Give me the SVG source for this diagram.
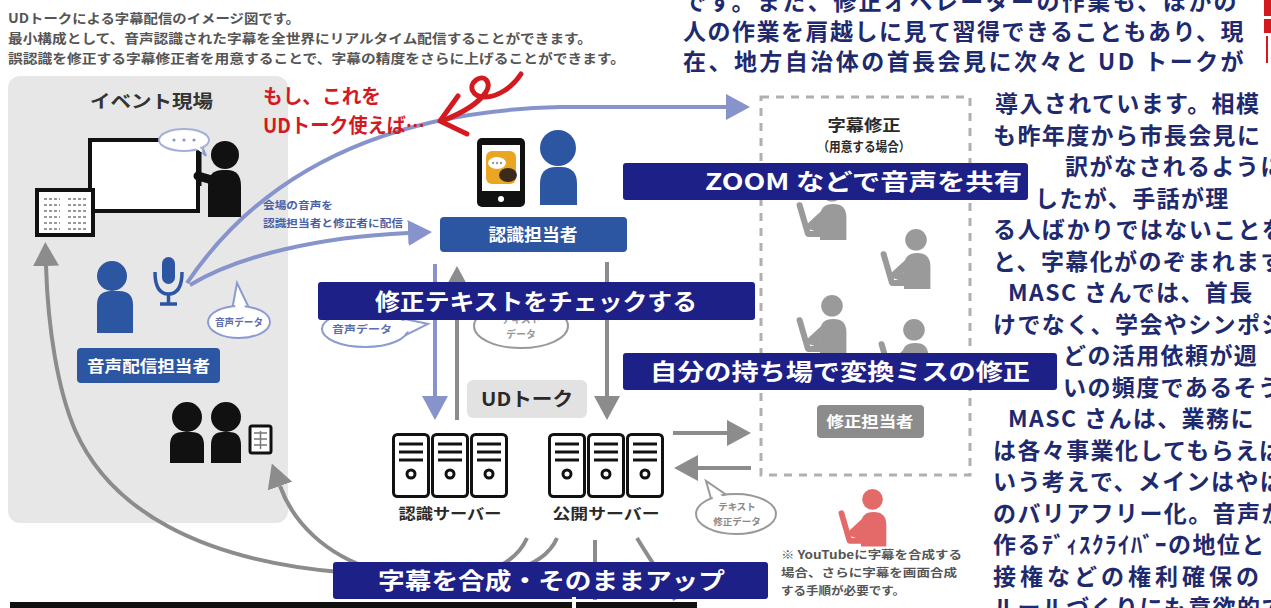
<svg xmlns="http://www.w3.org/2000/svg" xmlns:xlink="http://www.w3.org/1999/xlink" width="1271" height="608" viewBox="0 0 1271 608">
  <style>
    .jp { font-family: "Noto Sans CJK JP", "Noto Sans", sans-serif; font-weight: 700; }
    .desc { fill: #555; font-size: 13px; }
    .body { fill: #1f2a6e; font-size: 23px; letter-spacing: 1.4px; }
    .banner rect { fill: #1d2086; }
    .banner text { fill: #fff; font-size: 23px; }
    .bluebox { fill: #2c56a2; }
    .white { fill: #fff; }
    .lbl { fill: #2a2a2a; }
    .bl-line { fill: none; stroke: #8794cb; stroke-width: 4; }
    .gr-line { fill: none; stroke: #8c8c8c; stroke-width: 4; }
    .bub-b { fill: #fff; stroke: #8c9bd0; stroke-width: 2; }
    .bub-g { fill: #fff; stroke: #999; stroke-width: 2; }
    .worker-gray { color: #9a9a9a; }
    .worker-red { color: #e46a6a; }
  </style>
  <defs>
    <marker id="ah-blue" viewBox="0 0 24 26" markerWidth="24" markerHeight="26" refX="0" refY="13" orient="auto" markerUnits="userSpaceOnUse">
      <path d="M0,0 L24,13 L0,26 Z" fill="#8794cb"/>
    </marker>
    <marker id="ah-gray" viewBox="0 0 24 26" markerWidth="24" markerHeight="26" refX="0" refY="13" orient="auto" markerUnits="userSpaceOnUse">
      <path d="M0,0 L24,13 L0,26 Z" fill="#8c8c8c"/>
    </marker>
    <!-- seated person at a laptop, facing left -->
    <g id="worker">
      <circle cx="30" cy="9" r="9" fill="currentColor"/>
      <path d="M20,50 L20,31 Q20,20 31,20 Q42,20 42,31 L42,50 Z" fill="currentColor"/>
      <path d="M25,27 L13,38 L27,43" fill="none" stroke="currentColor" stroke-width="7" stroke-linecap="round" stroke-linejoin="round"/>
      <path d="M3,21 L10,45 L28,45" fill="none" stroke="currentColor" stroke-width="5" stroke-linecap="round" stroke-linejoin="round"/>
    </g>
    <!-- single server rack unit -->
    <g id="rack">
      <rect x="1.5" y="1.5" width="35" height="62" rx="4" fill="#fff" stroke="#111" stroke-width="3"/>
      <path d="M7,11 H31 M7,19 H31 M7,27 H31" stroke="#111" stroke-width="3"/>
      <circle cx="19" cy="41" r="4" fill="none" stroke="#111" stroke-width="3"/>
    </g>
  </defs>

  <rect width="1271" height="608" fill="#fff"/>

  <!-- caption -->
  <g id="caption" class="jp desc">
    <text x="8" y="23" textLength="292" lengthAdjust="spacingAndGlyphs">UDトークによる字幕配信のイメージ図です。</text>
    <text x="8" y="43" textLength="584" lengthAdjust="spacingAndGlyphs">最小構成として、音声認識された字幕を全世界にリアルタイム配信することができます。</text>
    <text x="8" y="63" textLength="617" lengthAdjust="spacingAndGlyphs">誤認識を修正する字幕修正者を用意することで、字幕の精度をさらに上げることができます。</text>
  </g>

  <!-- venue panel -->
  <g id="venue">
    <rect x="8" y="76" width="280" height="447" rx="12" fill="#e7e7e7"/>
    <text class="jp" x="90" y="108" font-size="18" fill="#333" textLength="123" lengthAdjust="spacingAndGlyphs">イベント現場</text>
  </g>

  <!-- presenter at whiteboard -->
  <g id="presenter">
    <rect x="90" y="140" width="108" height="71" fill="#fff" stroke="#111" stroke-width="4"/>
    <path d="M196,146 L206,156 L201,144 Z" class="bub-b"/>
    <ellipse cx="184" cy="140" rx="25" ry="11" fill="#fff" stroke="#a6b0d6" stroke-width="2"/>
    <path d="M195,148 L203,153 L199,146 Z" fill="#fff"/>
    <circle cx="174" cy="140" r="1.6" fill="#8a98c8"/>
    <circle cx="184" cy="140" r="1.6" fill="#8a98c8"/>
    <circle cx="194" cy="140" r="1.6" fill="#8a98c8"/>
    <path d="M200,152 V186" stroke="#111" stroke-width="3"/>
    <circle cx="225" cy="155" r="14" fill="#111"/>
    <path d="M208,217 V186 Q208,170 223,170 H227 Q241,170 241,186 V217 Z" fill="#111"/>
    <path d="M212,180 L198,176" stroke="#111" stroke-width="9" stroke-linecap="round"/>
  </g>

  <!-- displayed subtitle screen -->
  <g id="screen">
    <rect x="37" y="190" width="56" height="45" fill="#fff" stroke="#111" stroke-width="4"/>
    <path d="M44,199 H60 M44,205 H60 M44,211 H60 M44,217 H60 M44,223 H60 M44,229 H60 M68,199 H86 M68,205 H86 M68,211 H86 M68,217 H86 M68,223 H86 M68,229 H86" stroke="#9a9a9a" stroke-width="2" stroke-dasharray="3 2"/>
  </g>

  <!-- audio operator -->
  <g id="audio-operator">
    <circle cx="112" cy="276" r="15" fill="#2c56a2"/>
    <path d="M97,333 V305 Q97,291 111,291 H119 Q133,291 133,305 V333 Z" fill="#2c56a2"/>
    <rect x="162" y="257" width="13" height="27" rx="6.5" fill="#2c56a2"/>
    <path d="M155,272 Q155,294 168.5,294 Q182,294 182,272" fill="none" stroke="#2c56a2" stroke-width="3.5"/>
    <path d="M168.5,294 V303 M160,304 H177" stroke="#2c56a2" stroke-width="3.5"/>
    <rect x="77" y="348" width="143" height="35" rx="4" class="bluebox"/>
    <text class="jp white" x="148.5" y="372" font-size="16" text-anchor="middle" textLength="123" lengthAdjust="spacingAndGlyphs">音声配信担当者</text>
  </g>

  <!-- audience -->
  <g id="audience">
    <circle cx="187" cy="417" r="15" fill="#111"/>
    <path d="M170,463 V445 Q170,432 183,432 H191 Q204,432 204,445 V463 Z" fill="#111"/>
    <circle cx="226" cy="417" r="15" fill="#111"/>
    <path d="M211,463 V445 Q211,432 223,432 H229 Q241,432 241,445 V463 Z" fill="#111"/>
    <rect x="250" y="426" width="21" height="27" rx="2" fill="#fff" stroke="#111" stroke-width="3"/>
    <path d="M254,433 H267 M254,439 H267 M254,445 H267 M260.5,431 V449" stroke="#777" stroke-width="1.5"/>
  </g>

  <!-- connectors -->
  <g id="connectors">
    <path class="bl-line" d="M187,283 C 250,190 360,112 560,107 L 726,107" marker-end="url(#ah-blue)"/>
    <path class="bl-line" d="M190,285 C 240,255 320,237 408,233" marker-end="url(#ah-blue)"/>
    <path class="bl-line" d="M435,264 V396" marker-end="url(#ah-blue)"/>
    <path class="gr-line" d="M457,420 V290" marker-end="url(#ah-gray)"/>
    <path class="gr-line" d="M607,262 V396" marker-end="url(#ah-gray)"/>
    <path class="gr-line" d="M673,433 H727" marker-end="url(#ah-gray)"/>
    <path class="gr-line" d="M751,468 H698" marker-end="url(#ah-gray)"/>
    <path class="gr-line" d="M527,538 C 510,578 440,590 375,570 C 325,555 293,522 280,486" marker-end="url(#ah-gray)"/>
    <path class="gr-line" d="M557,538 C 540,578 470,585 340,572 C 200,560 110,510 75,430 C 58,390 48,330 46,266" marker-end="url(#ah-gray)"/>
    <path class="gr-line" d="M595,540 V600"/>
    <path class="gr-line" d="M637,538 C 650,560 665,580 675,600"/>
  </g>

  <!-- connector notes -->
  <g id="notes" class="jp">
    <text x="263" y="209" font-size="10" fill="#4a5fa5" textLength="70" lengthAdjust="spacingAndGlyphs">会場の音声を</text>
    <text x="263" y="227" font-size="10" fill="#4a5fa5" textLength="140" lengthAdjust="spacingAndGlyphs">認識担当者と修正者に配信</text>
    <!-- voice data bubble near operator -->
    <path d="M232,310 L237,283 L250,310 Z" class="bub-b"/>
    <ellipse cx="239" cy="322" rx="31" ry="16" class="bub-b"/>
    <path d="M234.5,312 L237.5,289 L247,312 Z" fill="#fff"/>
    <text x="239" y="326" font-size="10" fill="#5c6eb0" text-anchor="middle" textLength="48" lengthAdjust="spacingAndGlyphs">音声データ</text>
    <!-- voice data bubble near recognition column -->
    <path d="M400,318 L428,324 L402,337 Z" class="bub-b"/>
    <ellipse cx="365" cy="329" rx="43" ry="18" class="bub-b"/>
    <path d="M398,320 L423,324 L400,335 Z" fill="#fff"/>
    <text x="362" y="333" font-size="10" fill="#5c6eb0" text-anchor="middle" textLength="60" lengthAdjust="spacingAndGlyphs">音声データ</text>
    <!-- text data bubble -->
    <ellipse cx="521" cy="326" rx="47" ry="22" class="bub-g"/>
    <text x="521" y="323" font-size="10" fill="#999" text-anchor="middle">テキスト</text>
    <text x="521" y="338" font-size="10" fill="#999" text-anchor="middle">データ</text>
    <!-- corrected text bubble -->
    <path d="M712,502 L706,481 L728,496 Z" class="bub-g"/>
    <ellipse cx="736" cy="514" rx="40" ry="20" class="bub-g"/>
    <path d="M714,502 L709,486 L726,499 Z" fill="#fff"/>
    <text x="737" y="510" font-size="9.5" fill="#8a8a8a" text-anchor="middle">テキスト</text>
    <text x="737" y="525" font-size="9.5" fill="#8a8a8a" text-anchor="middle">修正データ</text>
  </g>

  <!-- recognition operator -->
  <g id="recognizer">
    <rect x="477" y="138" width="48" height="69" rx="5" fill="#111"/>
    <rect x="482" y="145" width="38" height="46" fill="#fff"/>
    <rect x="486" y="151" width="30" height="33" rx="6" fill="#e8a623"/>
    <ellipse cx="508" cy="175" rx="9" ry="7" fill="#3b2b1b"/>
    <ellipse cx="497" cy="163" rx="9" ry="6" fill="#fff"/>
    <circle cx="493" cy="163" r="1.2" fill="#999"/>
    <circle cx="497" cy="163" r="1.2" fill="#999"/>
    <circle cx="501" cy="163" r="1.2" fill="#999"/>
    <circle cx="501" cy="199" r="3" fill="#fff"/>
    <circle cx="558" cy="148" r="18" fill="#2c56a2"/>
    <path d="M540,205 V184 Q540,167 556,167 H561 Q577,167 577,184 V205 Z" fill="#2c56a2"/>
    <rect x="440" y="217" width="187" height="35" rx="4" class="bluebox"/>
    <text class="jp white" x="533" y="241" font-size="17" text-anchor="middle" textLength="89" lengthAdjust="spacingAndGlyphs">認識担当者</text>
  </g>

  <!-- UD Talk label -->
  <g id="udtalk">
    <rect x="467" y="380" width="120" height="38" rx="6" fill="#e2e2e2"/>
    <text class="jp lbl" x="527" y="406" font-size="19" text-anchor="middle" textLength="92" lengthAdjust="spacingAndGlyphs">UDトーク</text>
  </g>

  <!-- recognition server -->
  <g id="recognition-server">
    <use href="#rack" x="392" y="433"/>
    <use href="#rack" x="431" y="433"/>
    <use href="#rack" x="470" y="433"/>
    <text class="jp lbl" x="450" y="519" font-size="15" text-anchor="middle" textLength="103" lengthAdjust="spacingAndGlyphs">認識サーバー</text>
  </g>

  <!-- publishing server -->
  <g id="publish-server">
    <use href="#rack" x="548" y="433"/>
    <use href="#rack" x="587" y="433"/>
    <use href="#rack" x="626" y="433"/>
    <text class="jp lbl" x="606" y="519" font-size="15" text-anchor="middle" textLength="107" lengthAdjust="spacingAndGlyphs">公開サーバー</text>
  </g>

  <!-- subtitle correction area -->
  <g id="correction">
    <rect x="761" y="97" width="209" height="378" fill="none" stroke="#b0b0b0" stroke-width="3" stroke-dasharray="8 7"/>
    <text class="jp lbl" x="864" y="131" font-size="16" text-anchor="middle" textLength="73" lengthAdjust="spacingAndGlyphs">字幕修正</text>
    <text class="jp lbl" x="864" y="151" font-size="13" text-anchor="middle" textLength="93" lengthAdjust="spacingAndGlyphs">（用意する場合）</text>
    <use href="#worker" class="worker-gray" transform="translate(796,180) scale(1.2)"/>
    <use href="#worker" class="worker-gray" transform="translate(880,229) scale(1.2)"/>
    <use href="#worker" class="worker-gray" transform="translate(796,295) scale(1.2)"/>
    <use href="#worker" class="worker-gray" transform="translate(878,319) scale(1.2)"/>
    <rect x="817" y="405" width="107" height="33" rx="4" fill="#8c8c8c"/>
    <text class="jp white" x="870" y="427" font-size="15" text-anchor="middle" textLength="87" lengthAdjust="spacingAndGlyphs">修正担当者</text>
  </g>

  <!-- video composite operator -->
  <g id="composer">
    <use href="#worker" class="worker-red" transform="translate(838,489) scale(1.15)"/>
    <g class="jp" font-size="11" fill="#555">
      <text x="781" y="559" textLength="181" lengthAdjust="spacingAndGlyphs">※ YouTubeに字幕を合成する</text>
      <text x="781" y="577" textLength="176" lengthAdjust="spacingAndGlyphs">場合、さらに字幕を画面合成</text>
      <text x="781" y="595" textLength="124" lengthAdjust="spacingAndGlyphs">する手順が必要です。</text>
    </g>
  </g>

  <!-- handwritten remark -->
  <g id="remark">
    <text class="jp" x="263" y="104" font-size="20" fill="#d51a1f" textLength="118" lengthAdjust="spacingAndGlyphs">もし、これを</text>
    <text class="jp" x="263" y="133" font-size="20" fill="#d51a1f" textLength="162" lengthAdjust="spacingAndGlyphs">UDトーク使えば…</text>
    <path d="M521,74 C 512,88 497,97 485,97 C 472,97 468,86 476,80 C 484,74 492,82 486,92 C 478,104 460,114 442,121" fill="none" stroke="#d51a1f" stroke-width="5" stroke-linecap="round"/>
    <path d="M458,96 L440,121 L467,134" fill="none" stroke="#d51a1f" stroke-width="5" stroke-linecap="round" stroke-linejoin="round"/>
  </g>

  <!-- banners -->
  <g id="banner-zoom" class="banner jp">
    <rect x="623" y="163" width="405" height="37" rx="3"/>
    <text x="705" y="190" textLength="317" lengthAdjust="spacingAndGlyphs">ZOOM などで音声を共有</text>
  </g>
  <g id="banner-check" class="banner jp">
    <rect x="318" y="282" width="437" height="38" rx="3"/>
    <text x="375" y="310" textLength="322" lengthAdjust="spacingAndGlyphs">修正テキストをチェックする</text>
  </g>
  <g id="banner-fix" class="banner jp">
    <rect x="623" y="353" width="434" height="37" rx="3"/>
    <text x="650" y="380" textLength="380" lengthAdjust="spacingAndGlyphs">自分の持ち場で変換ミスの修正</text>
  </g>
  <g id="banner-publish" class="banner jp">
    <rect x="333" y="562" width="435" height="37" rx="3"/>
    <text x="378" y="589" textLength="347" lengthAdjust="spacingAndGlyphs">字幕を合成・そのままアップ</text>
  </g>

  <!-- bottom strip -->
  <rect x="10" y="602" width="687" height="6" fill="#111"/>
  <rect x="572" y="597" width="4" height="11" fill="#fff"/>

  <!-- right edge red marks -->
  <g fill="#d51a1f">
    <rect x="1264" y="0" width="7" height="16"/>
    <rect x="1264" y="19" width="7" height="14"/>
    <rect x="1266" y="36" width="2" height="27"/>
  </g>

  <!-- article column -->
  <g id="article" class="jp body">
    <text x="683" y="10" textLength="555" lengthAdjust="spacing">です。また、修正オペレーターの作業も、ほかの</text>
    <text x="683" y="40" textLength="562" lengthAdjust="spacing">人の作業を肩越しに見て習得できることもあり、現</text>
    <text x="683" y="70" textLength="562" lengthAdjust="spacing">在、地方自治体の首長会見に次々と UD トークが</text>
    <text x="995" y="112">導入されています。相模</text>
    <text x="993" y="143.5">も昨年度から市長会見に</text>
    <text x="1065" y="175">訳がなされるように</text>
    <text x="1035" y="206.5">したが、手話が理</text>
    <text x="993" y="238">る人ばかりではないことを</text>
    <text x="993" y="269.5">と、字幕化がのぞまれます</text>
    <text x="1008" y="301">MASC さんでは、首長</text>
    <text x="993" y="332.5">けでなく、学会やシンポジ</text>
    <text x="1063" y="364">どの活用依頼が週</text>
    <text x="1063" y="395.5">いの頻度であるそう</text>
    <text x="1008" y="427">MASC さんは、業務に</text>
    <text x="993" y="458.5">は各々事業化してもらえば</text>
    <text x="993" y="490">いう考えで、メインはやは</text>
    <text x="993" y="521.5">のバリアフリー化。音声か</text>
    <text x="993" y="553">作るﾃﾞｨｽｸﾗｲﾊﾞｰの地位と</text>
    <text x="993" y="584.5" letter-spacing="4">接権などの権利確保の</text>
    <text x="993" y="616">ルールづくりにも意欲的で</text>
  </g>
</svg>
